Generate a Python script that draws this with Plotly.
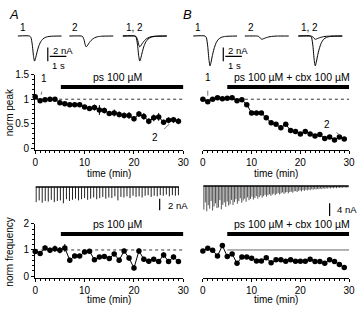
import numpy as np
import plotly.graph_objects as go

W, H = 360, 312

# ---------------- data ----------------
time_min = list(range(30))

peak_A = [1.05, 0.97, 0.99, 1.00, 1.00, 0.93, 0.91, 0.89, 0.89, 0.89, 0.84, 0.81, 0.83, 0.78, 0.77,
          0.71, 0.72, 0.69, 0.67, 0.67, 0.60, 0.70, 0.65, 0.55, 0.62, 0.64, 0.53, 0.57, 0.58, 0.55]
peak_A_err = [0.03, 0.02, 0.02, 0.02, 0.02, 0.03, 0.03, 0.03, 0.04, 0.04, 0.04, 0.05, 0.06, 0.10, 0.06,
              0.05, 0.07, 0.06, 0.06, 0.07, 0.05, 0.06, 0.07, 0.06, 0.07, 0.08, 0.05, 0.06, 0.06, 0.06]
peak_B = [1.00, 0.95, 1.00, 1.03, 1.01, 1.02, 1.03, 0.97, 0.99, 0.89, 0.72, 0.72, 0.72, 0.62, 0.52,
          0.49, 0.42, 0.49, 0.36, 0.34, 0.29, 0.34, 0.29, 0.25, 0.28, 0.20, 0.23, 0.17, 0.23, 0.19]
peak_B_err = [0.02, 0.02, 0.02, 0.02, 0.02, 0.02, 0.02, 0.02, 0.02, 0.03, 0.03, 0.02, 0.02, 0.03, 0.03,
              0.03, 0.03, 0.03, 0.03, 0.02, 0.02, 0.02, 0.02, 0.02, 0.02, 0.02, 0.02, 0.02, 0.02, 0.02]
freq_A = [0.94, 0.87, 1.08, 0.99, 1.05, 0.99, 1.08, 0.61, 0.77, 0.77, 0.92, 0.95, 0.63, 0.73, 0.75,
          0.67, 0.85, 0.61, 0.96, 0.69, 0.31, 0.96, 0.65, 0.57, 0.65, 0.56, 0.81, 0.56, 0.73, 0.56]
freq_A_err = [0.08, 0.07, 0.09, 0.10, 0.12, 0.12, 0.15, 0.10, 0.09, 0.08, 0.07, 0.08, 0.09, 0.08, 0.09,
              0.08, 0.08, 0.10, 0.09, 0.10, 0.09, 0.10, 0.09, 0.09, 0.08, 0.09, 0.10, 0.09, 0.10, 0.09]
freq_B = [0.96, 1.07, 0.99, 0.77, 1.17, 0.75, 0.85, 0.49, 0.73, 0.73, 0.68, 0.58, 0.58, 0.70, 0.51,
          0.63, 0.63, 0.57, 0.63, 0.57, 0.57, 0.57, 0.65, 0.56, 0.56, 0.49, 0.63, 0.56, 0.45, 0.33]
freq_B_err = [0.04, 0.04, 0.04, 0.05, 0.05, 0.05, 0.05, 0.05, 0.05, 0.05, 0.05, 0.05, 0.05, 0.05, 0.05,
              0.05, 0.05, 0.05, 0.05, 0.05, 0.05, 0.05, 0.05, 0.05, 0.05, 0.05, 0.05, 0.05, 0.05, 0.05]

# raw recordings: spike amplitudes (nA)
raw_A_amp = [2.6, 2.3, 2.7, 2.4, 2.5, 2.2, 2.6, 2.4, 2.3, 2.8, 2.1, 2.4, 2.2, 2.0, 2.3, 2.1,
             1.9, 2.2, 2.0, 1.8, 2.1, 1.9, 1.7, 2.0, 1.8, 1.9, 1.6, 2.3, 1.7, 1.8, 1.6, 1.9,
             1.5, 1.7, 1.6, 1.8, 1.5, 1.4, 1.7, 1.5, 1.6, 1.4, 1.5, 1.3, 1.6, 1.4, 1.5, 1.4]
raw_B_amp = [7.5, 5.2, 8.0, 6.1, 7.2, 4.8, 7.8, 6.5, 5.5, 7.0, 6.8, 4.5, 7.4, 6.0, 5.2, 6.6, 4.9, 6.2, 5.8, 4.4,
             6.0, 5.1, 4.2, 5.6, 4.8, 3.9, 5.3, 4.6, 4.0, 5.0, 3.6, 4.5, 4.1, 3.4, 4.3, 3.8, 3.2, 4.0, 3.5, 3.0,
             3.7, 3.2, 2.8, 3.4, 2.9, 2.6, 3.1, 2.7, 2.4, 2.9, 2.5, 2.2, 2.7, 2.3, 2.0, 2.5, 2.1, 1.9, 2.3, 1.9,
             1.8, 2.1, 1.7, 1.6, 1.9, 1.5, 1.4, 1.7, 1.3, 1.5, 1.2, 1.4, 1.1, 1.3, 1.0, 1.2, 0.9, 1.1, 0.9, 1.0,
             0.8, 1.0, 0.7, 0.9, 0.7, 0.8, 0.6, 0.8, 0.6, 0.7, 0.5, 0.7, 0.5, 0.6, 0.5, 0.6, 0.4, 0.5, 0.5, 0.4]

# example currents (time in s, current in nA)
wave_t = [0, 0.72, 0.80, 0.88, 0.96, 1.02, 1.08, 1.16, 1.26, 1.38, 1.52, 1.70, 1.95, 2.65]
wave_A1 = [0, 0, -0.2, -1.2, -3.0, -3.7, -3.3, -2.5, -1.6, -0.9, -0.45, -0.18, -0.05, 0]
wave_A2 = [0, 0, -0.08, -0.5, -1.3, -1.6, -1.45, -1.15, -0.8, -0.5, -0.27, -0.11, -0.03, 0]
wave_B1 = [0, 0, -0.25, -1.5, -3.6, -4.4, -3.9, -2.9, -1.9, -1.05, -0.5, -0.2, -0.06, 0]
wave_B2 = [0, 0, -0.03, -0.15, -0.38, -0.48, -0.45, -0.37, -0.27, -0.18, -0.10, -0.04, -0.01, 0]
wave_offsets = [0.0, 3.12, 6.35]

drug_start_A = 5.2
drug_start_B = 5.0
drug_end = 30
label_A = "ps 100 µM"
label_B = "ps 100 µM + cbx 100 µM"

# ---------------- helpers ----------------
def X(px):
    return px / W

def Y(py):
    return 1 - py / H

FONT = "Liberation Sans, Arial, sans-serif"
fig = go.Figure()

def series(x, y, err, n):
    xa = "x" if n == 1 else f"x{n}"
    ya = "y" if n == 1 else f"y{n}"
    fig.add_trace(go.Scatter(
        x=x, y=y, mode="lines+markers", xaxis=xa, yaxis=ya,
        line=dict(color="black", width=1),
        marker=dict(color="black", size=5.5),
        error_y=dict(type="data", array=err, thickness=1, width=0, color="black"),
        cliponaxis=False))

def hline(y, x0, x1, n, dash="dot", color="#333", width=1):
    xa = "x" if n == 1 else f"x{n}"
    ya = "y" if n == 1 else f"y{n}"
    fig.add_trace(go.Scatter(x=[x0, x1], y=[y, y], mode="lines", xaxis=xa, yaxis=ya,
                             line=dict(color=color, width=width, dash=dash), cliponaxis=False))

# reference lines
hline(1, 0, 30, 1)
hline(1, 0, 30, 2)
hline(1, 0, 30, 5)
hline(1, drug_start_B, 30, 6, dash="solid", color="#666")

# drug bars
hline(1.25, drug_start_A, drug_end, 1, dash="solid", color="black", width=4)
hline(1.25, drug_start_B, drug_end, 2, dash="solid", color="black", width=4)
hline(1.61, drug_start_A, drug_end, 5, dash="solid", color="black", width=4)
hline(1.61, drug_start_B, drug_end, 6, dash="solid", color="black", width=4)

series(time_min, peak_A, peak_A_err, 1)
series(time_min, peak_B, peak_B_err, 2)
series(time_min, freq_A, freq_A_err, 5)
series(time_min, freq_B, freq_B_err, 6)

# raw recordings
def raw(amps, t0, t1, n, color):
    ts = np.linspace(t0, t1, len(amps))
    xs, ys = [], []
    for t, a in zip(ts, amps):
        xs += [t, t, None]
        ys += [0, -a, None]
    fig.add_trace(go.Scatter(x=xs, y=ys, mode="lines", xaxis=f"x{n}", yaxis=f"y{n}",
                             line=dict(color=color, width=1), cliponaxis=False))
    fig.add_trace(go.Scatter(x=[t0 - 0.1, t1 + 0.1], y=[0, 0], mode="lines", xaxis=f"x{n}", yaxis=f"y{n}",
                             line=dict(color="black", width=1.5), cliponaxis=False))

raw(raw_A_amp, 0.2, 29.0, 3, "#222")
raw(raw_B_amp, 0.2, 29.8, 4, "#555")

# raw scale bars
fig.add_trace(go.Scatter(x=[25.2, 25.2], y=[-2.0, -4.0], mode="lines", xaxis="x3", yaxis="y3",
                         line=dict(color="black", width=1.2), cliponaxis=False))
fig.add_trace(go.Scatter(x=[26.0, 26.0], y=[-5.5, -9.5], mode="lines", xaxis="x4", yaxis="y4",
                         line=dict(color="black", width=1.2), cliponaxis=False))

# example waves
def waves(w1, w2, n):
    xa, ya = f"x{n}", f"y{n}"
    for off, ws in zip(wave_offsets, [[w1], [w2], [w1, w2]]):
        for w in ws:
            fig.add_trace(go.Scatter(x=[t + off for t in wave_t], y=w, mode="lines", xaxis=xa, yaxis=ya,
                                     line=dict(color="black", width=1, shape="spline", smoothing=0.6),
                                     cliponaxis=False))
    # scale bars: 2 nA vertical, 1 s horizontal
    fig.add_trace(go.Scatter(x=[1.82, 1.82], y=[-1.71, -3.71], mode="lines", xaxis=xa, yaxis=ya,
                             line=dict(color="black", width=1.2), cliponaxis=False))
    fig.add_trace(go.Scatter(x=[1.94, 2.94], y=[-3.0, -3.0], mode="lines", xaxis=xa, yaxis=ya,
                             line=dict(color="black", width=1.2), cliponaxis=False))

waves(wave_A1, wave_A2, 7)
waves(wave_B1, wave_B2, 8)

# ---------------- axes ----------------
tickfont = dict(size=10, color="black", family=FONT)

def xax(px0, px1, anchor, visible=True):
    d = dict(domain=[X(px0), X(px1)], range=[0, 30], anchor=anchor, showgrid=False, zeroline=False,
             fixedrange=True)
    if visible:
        d.update(showline=True, linecolor="black", linewidth=1, ticks="outside", ticklen=3,
                 tickcolor="black", tickwidth=1, tickvals=[0, 10, 20, 30], tickfont=tickfont,
                 ticklabelstandoff=0,
                 minor=dict(ticks="outside", dtick=1, tick0=0, ticklen=2, tickcolor="black", showgrid=False))
    else:
        d.update(visible=False)
    return d

def yax(py0, py1, rng, anchor, tickvals=None, ticktext=None, minor=None):
    d = dict(domain=[Y(py1), Y(py0)], range=rng, anchor=anchor, showgrid=False, zeroline=False,
             fixedrange=True)
    if tickvals is not None:
        d.update(showline=True, linecolor="black", linewidth=1, ticks="outside", ticklen=3,
                 tickcolor="black", tickvals=tickvals, ticktext=ticktext, tickfont=tickfont,
                 minor=dict(ticks="outside", dtick=minor, tick0=0, ticklen=2, tickcolor="black", showgrid=False))
    else:
        d.update(visible=False)
    return d

layout = dict(
    width=W, height=H, margin=dict(l=0, r=0, t=0, b=0),
    paper_bgcolor="white", plot_bgcolor="white", showlegend=False,
    font=dict(family=FONT, color="black", size=10),
    xaxis=xax(33, 185, "y"),
    yaxis=yax(71, 149, [-0.04, 1.5], "x", [0, 0.5, 1, 1.5], ["0", "0.5", "1", "1.5"], 0.1),
    xaxis2=xax(205, 355, "y2"),
    yaxis2=yax(71, 149, [-0.04, 1.5], "x2"),
    xaxis3=xax(33, 185, "y3", visible=False),
    yaxis3=yax(183, 216, [-4.83, 0.67], "x3"),
    xaxis4=xax(205, 355, "y4", visible=False),
    yaxis4=yax(183, 220, [-10.46, 0.92], "x4"),
    xaxis5=xax(33, 185, "y5"),
    yaxis5=yax(225, 281, [-0.07, 2], "x5", [0, 1, 2], ["0", "1", "2"], 0.2),
    xaxis6=xax(205, 355, "y6"),
    yaxis6=yax(225, 281, [-0.07, 2], "x6"),
    xaxis7=dict(domain=[X(15), X(170)], range=[0, 9.12], anchor="y7", visible=False, fixedrange=True),
    yaxis7=dict(domain=[Y(70), Y(20)], range=[-5.571, 1.571], anchor="x7", visible=False, fixedrange=True),
    xaxis8=dict(domain=[X(195), X(350)], range=[0, 9.12], anchor="y8", visible=False, fixedrange=True),
    yaxis8=dict(domain=[Y(70), Y(20)], range=[-5.571, 1.571], anchor="x8", visible=False, fixedrange=True),
)
fig.update_layout(**layout)

# ---------------- annotations ----------------
ann = []
def txt(x, y, s, size=10, xref="paper", yref="paper", xanchor="center", yanchor="middle", angle=0, italic=False):
    if xref == "paper":
        x = X(x)
    if yref == "paper":
        y = Y(y)
    if italic:
        s = f"<i>{s}</i>"
    ann.append(dict(x=x, y=y, xref=xref, yref=yref, text=s, showarrow=False, xanchor=xanchor,
                    yanchor=yanchor, textangle=angle, font=dict(size=size, family=FONT, color="black")))

txt(4, 9, "A", size=13, xanchor="left", italic=True)
txt(183, 9, "B", size=13, xanchor="left", italic=True)
for base in (0, 180):
    txt(15 + base, 22, "1", xanchor="left")
    txt(69 + base, 22, "2", xanchor="left")
    txt(124 + base, 22, "1, 2", xanchor="left")
    txt(49 + base, 46, "2 nA", size=9.5, xanchor="left")
    txt(57 + base, 61, "1 s", size=9.5)

txt(16.6, 1.46, label_A, size=10.5, xref="x", yref="y")
txt(18.2, 1.46, label_B, size=10.5, xref="x2", yref="y2")
txt(16.6, 2.0, label_A, size=10.5, xref="x5", yref="y5")
txt(18.2, 2.0, label_B, size=10.5, xref="x6", yref="y6")

txt(109, 173, "time (min)")
txt(280, 173, "time (min)")
txt(109, 303, "time (min)")
txt(280, 303, "time (min)")
txt(7, 110, "norm peak", angle=-90)
txt(7, 254, "norm frequency", angle=-90)

txt(26.4, -3.1, "2 nA", size=9.5, xref="x3", yref="y3", xanchor="left")
txt(27.0, -7.5, "4 nA", size=9.5, xref="x4", yref="y4", xanchor="left")

# numbered pointers
def pointer(x, y, ax, ay, s, n):
    xa = "x" if n == 1 else f"x{n}"
    ya = "y" if n == 1 else f"y{n}"
    ann.append(dict(x=x, y=y, xref=xa, yref=ya, text=s, showarrow=True, arrowhead=0, arrowwidth=0.8,
                    arrowcolor="#555", ax=ax, ay=ay, standoff=6, startstandoff=6,
                    font=dict(size=10, family=FONT, color="black")))

pointer(1, peak_A[1], 4, -22, "1", 1)
pointer(28, peak_A[28], -18, 18, "2", 1)
pointer(1, peak_B[1], 0, -24, "1", 2)
pointer(29, peak_B[29], -17, -14, "2", 2)

fig.update_layout(annotations=ann)
fig.write_html("out.html", config={"displayModeBar": False},
               post_script="document.body.style.margin='0';document.body.style.overflow='hidden';")
